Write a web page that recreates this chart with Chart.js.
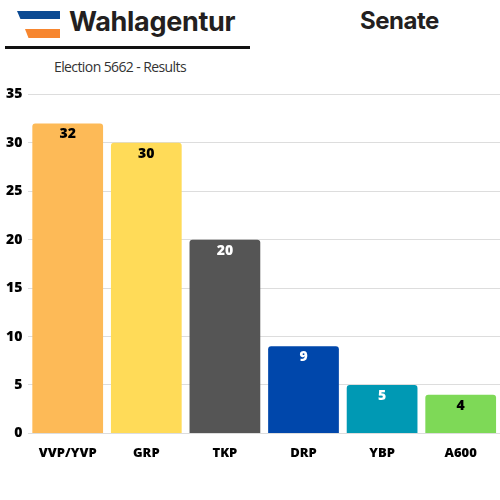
<!DOCTYPE html>
<html><head><meta charset="utf-8">
<script src="https://cdn.jsdelivr.net/npm/chart.js@4"></script>
<style>
body{margin:0;width:500px;height:500px;background:#fff;position:relative;font-family:"Open Sans",sans-serif;overflow:hidden}
.abs{position:absolute}
</style></head><body>
<div class="abs" style="left:17px;top:11px;width:43px;height:8px;background:#0B4A93;clip-path:polygon(0 0,100% 0,100% 100%,8% 100%)"></div>
<div class="abs" style="left:25px;top:29px;width:35px;height:9px;background:#F7862F;clip-path:polygon(0 0,100% 0,100% 100%,10% 100%)"></div>
<div class="abs" style="left:69px;top:5px;font:700 27px Inter,sans-serif;color:#231f20;letter-spacing:-0.3px">Wahlagentur</div>
<div class="abs" style="left:5px;top:46px;width:245px;height:3px;background:#111"></div>
<div class="abs" style="left:54px;top:57px;font:14px 'Open Sans',sans-serif;color:#333;letter-spacing:-0.6px">Election 5662 - Results</div>
<div class="abs" style="left:360px;top:6px;font:700 24px Inter,sans-serif;color:#231f20;letter-spacing:-0.5px">Senate</div>
<div class="abs" style="left:0;top:80px;width:500px;height:385px"><canvas id="c"></canvas></div>
<script>
const categories=["VVP/YVP","GRP","TKP","DRP","YBP","A600"];
const seats=[32,30,20,9,5,4];
const colors=["#FDBA57","#FFDB58","#555555","#0047AB","#0099B4","#7ED957"];
const labelColors=["#000","#000","#fff","#fff","#fff","#000"];
const yTicks=[0,5,10,15,20,25,30,35];
const valuePlugin={id:"vals",afterDatasetsDraw(ch){const ctx=ch.ctx;const m=ch.getDatasetMeta(0);ctx.save();ctx.font="800 14px 'Open Sans',sans-serif";ctx.textAlign="center";ctx.textBaseline="top";m.data.forEach((b,i)=>{ctx.fillStyle=labelColors[i];ctx.fillText(seats[i],b.x,b.y+4);});ctx.restore();}};
new Chart(document.getElementById("c"),{type:"bar",data:{labels:categories,datasets:[{data:seats,backgroundColor:colors,borderRadius:3,borderSkipped:"bottom",barPercentage:0.9,categoryPercentage:1}]},
options:{responsive:true,maintainAspectRatio:false,animation:false,layout:{padding:{top:6,right:0,left:0,bottom:0}},
plugins:{legend:{display:false},tooltip:{enabled:false}},
scales:{y:{min:0,max:35,afterBuildTicks(a){a.ticks=yTicks.map(v=>({value:v}));},grid:{color:"#ddd",drawTicks:false},border:{display:false},ticks:{padding:6,color:"#000",font:{family:"Open Sans",weight:"800",size:14}}},
x:{grid:{display:false},border:{display:false},ticks:{padding:4,color:"#000",font:{family:"Open Sans",weight:"800",size:13}}}}},plugins:[valuePlugin]});
</script></body></html>
